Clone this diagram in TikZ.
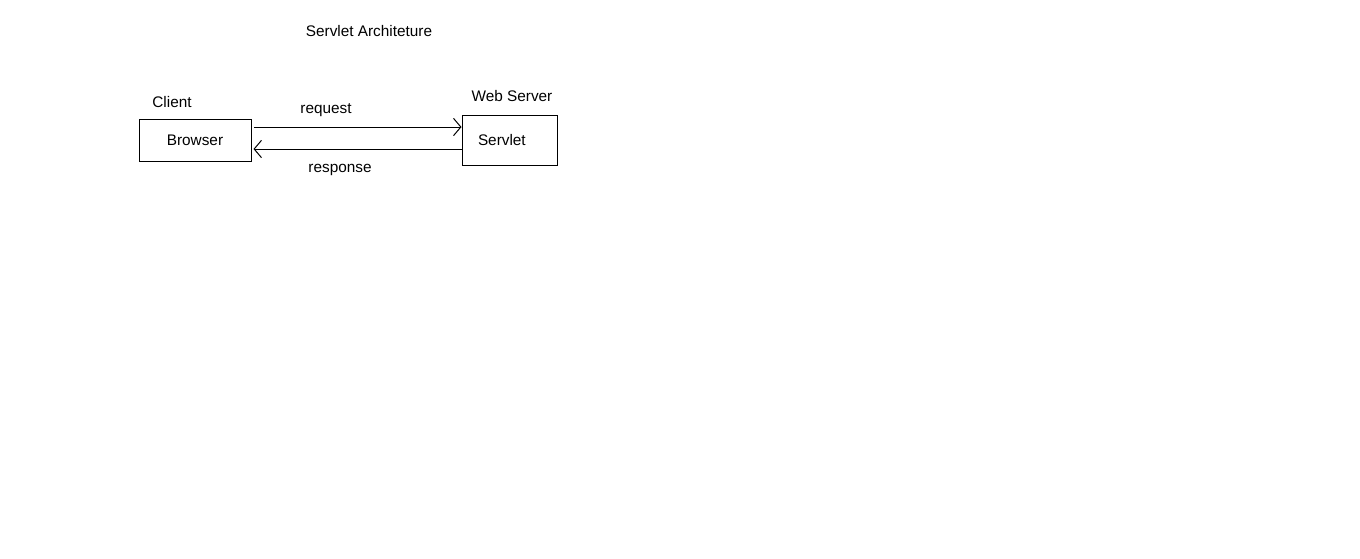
\documentclass[tikz,border=0pt]{standalone}
\usepackage{fontspec}
\setmainfont{Liberation Sans}
\usetikzlibrary{arrows.meta}

\begin{document}
\begin{tikzpicture}[
  x=0.75pt, y=-0.75pt,
  font=\fontsize{11.5}{14}\selectfont,
  box/.style={rectangle, draw, line width=0.75pt, inner sep=0pt},
  lbl/.style={anchor=base, inner sep=0pt},
  arrow/.style={-{Straight Barb[length=5.5pt, width=13pt]}, line width=0.75pt}
]
\useasboundingbox (0,0) rectangle (1360,558);

% Title
\node[lbl] (title) at (369,36) {Servlet Architeture};

% Boxes
\node[box, minimum width=84pt, minimum height=31.5pt] (browser) at (195,140) {Browser};
\node[box, minimum width=71.25pt, minimum height=37.5pt, text width=47.25pt, align=left] (servlet) at (509.5,140) {Servlet};

% Box captions
\node[lbl] (client)    at (172,107) {Client};
\node[lbl] (webserver) at (512,101) {Web Server};

% Arrows between boxes
\draw[arrow, shorten <=2pt] ([yshift=9.75pt]browser.east) -- ([yshift=9.75pt]servlet.west);
\draw[arrow, shorten >=1.5pt] ([yshift=-6.75pt]servlet.west) -- ([yshift=-6.75pt]browser.east);

% Arrow labels
\node[lbl] (request)  at (326,113) {request};
\node[lbl] (response) at (340,172) {response};

\end{tikzpicture}
\end{document}
